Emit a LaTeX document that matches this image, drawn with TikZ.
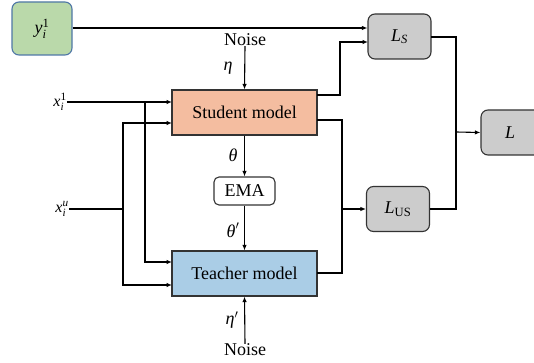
\documentclass[tikz,border=0pt]{standalone}
\usepackage{amsmath}
\usepackage{fontspec}
\setmainfont{Liberation Serif}
\newfontfamily\tnr{Liberation Serif}
\usetikzlibrary{arrows.meta}
\definecolor{gfill}{HTML}{BAD9AA}
\definecolor{gdraw}{HTML}{4F77A6}
\definecolor{sfill}{HTML}{F4BDA0}
\definecolor{tfill}{HTML}{AACDE6}
\definecolor{lfill}{HTML}{CCCCCC}
\tikzset{
  box/.style={draw=black!80, line width=1.1pt, inner sep=0pt, font=\tnr\fontsize{18}{20}\selectfont},
  rbox/.style={box, rounded corners=7pt},
  lbl/.style={inner sep=0pt, font=\tnr\fontsize{18}{20}\selectfont},
  slbl/.style={inner sep=0pt, font=\tnr\fontsize{16}{18}\selectfont},
  arr/.style={line width=1.1pt, -{Latex[length=5.5pt,width=4.5pt]}},
  ln/.style={line width=1.1pt}
}
\newcommand{\ti}[1]{\text{\tnr\itshape #1}}
\newcommand{\tr}[1]{\text{\tnr\upshape #1}}
\begin{document}
\begin{tikzpicture}[x=1pt,y=-1pt]
\clip (0,0) rectangle (534,363);
\useasboundingbox (0,0) rectangle (534,363);
% boxes
\node[rbox, fill=gfill, draw=gdraw, minimum width=60pt, minimum height=53pt] (y) at (42,28.5) {$\ti{y}_{\ti{i}}^{\tr{1}}$};
\node[rbox, fill=lfill, minimum width=63pt, minimum height=45pt] (ls) at (399.5,36.5) {$\ti{L}_{\ti{S}}$};
\node[rbox, fill=lfill, minimum width=63pt, minimum height=45pt] (lus) at (398,209) {$\ti{L}_{\tr{US}}$};
\node[rbox, fill=lfill, minimum width=64pt, minimum height=45pt] (l) at (513,132.5) {\hspace*{-6pt}$\ti{L}$};
\node[box, fill=sfill, minimum width=145pt, minimum height=45pt] (student) at (244.5,112.5) {Student model};
\node[box, fill=tfill, minimum width=145pt, minimum height=45pt] (teacher) at (244.5,273.5) {Teacher model};
\node[rbox, rounded corners=5pt, fill=white, minimum width=61pt, minimum height=28pt] (ema) at (244.5,191) {EMA};
% labels
\node[lbl] (noise1) at (245,40) {Noise};
\node[lbl] (noise2) at (245,350) {Noise};
\node[lbl] (eta) at (228,68) {$\ti{η}$};
\node[lbl] (theta) at (233,155) {$\ti{θ}$};
\node[lbl] (thetap) at (233,230) {$\ti{θ}'$};
\node[lbl] (etap) at (232,320) {$\ti{η}'$};
\node[slbl] (x1) at (60,102) {$\ti{x}_{\ti{i}}^{\tr{1}}$};
\node[slbl] (xu) at (62,209) {$\ti{x}_{\ti{i}}^{\ti{u}}$};
% coordinates
\coordinate (s1) at (172,102);
\coordinate (s2) at (172,123);
\coordinate (t1) at (172,262);
\coordinate (t2) at (172,285);
\coordinate (j1) at (145,102);
\coordinate (j2) at (123,209);
\coordinate (so1) at (317,95);
\coordinate (so2) at (317,120);
\coordinate (to) at (317,273);
\coordinate (ms) at (342,209);
\coordinate (lsin) at (368,42);
\coordinate (lso) at (431,37);
\coordinate (jl) at (456,132);
% connectors
\draw[arr] (y.east |- 0,28) -- (ls.west |- 0,28);
\draw[arr] (noise1.south) -- (student.north);
\draw[arr] (student.south) -- (ema.north);
\draw[arr] (ema.south) -- (teacher.north);
\draw[arr] (noise2.north) -- (teacher.south);
\draw[arr] (x1.east |- s1) -- (s1);
\draw[arr] (j1) |- (t1);
\draw[ln] (xu.east |- j2) -- (j2);
\draw[arr] (j2) |- (s2);
\draw[arr] (j2) |- (t2);
\draw[arr] (so1) -| (340,70) |- (lsin);
\draw[ln] (so2) -| (ms);
\draw[ln] (to) -| (ms);
\draw[arr] (ms) -- (lus.west);
\draw[ln] (lso) -| (456,209) -- (lus.east);
\draw[arr] (jl) -- (l.west);
\end{tikzpicture}
\end{document}
